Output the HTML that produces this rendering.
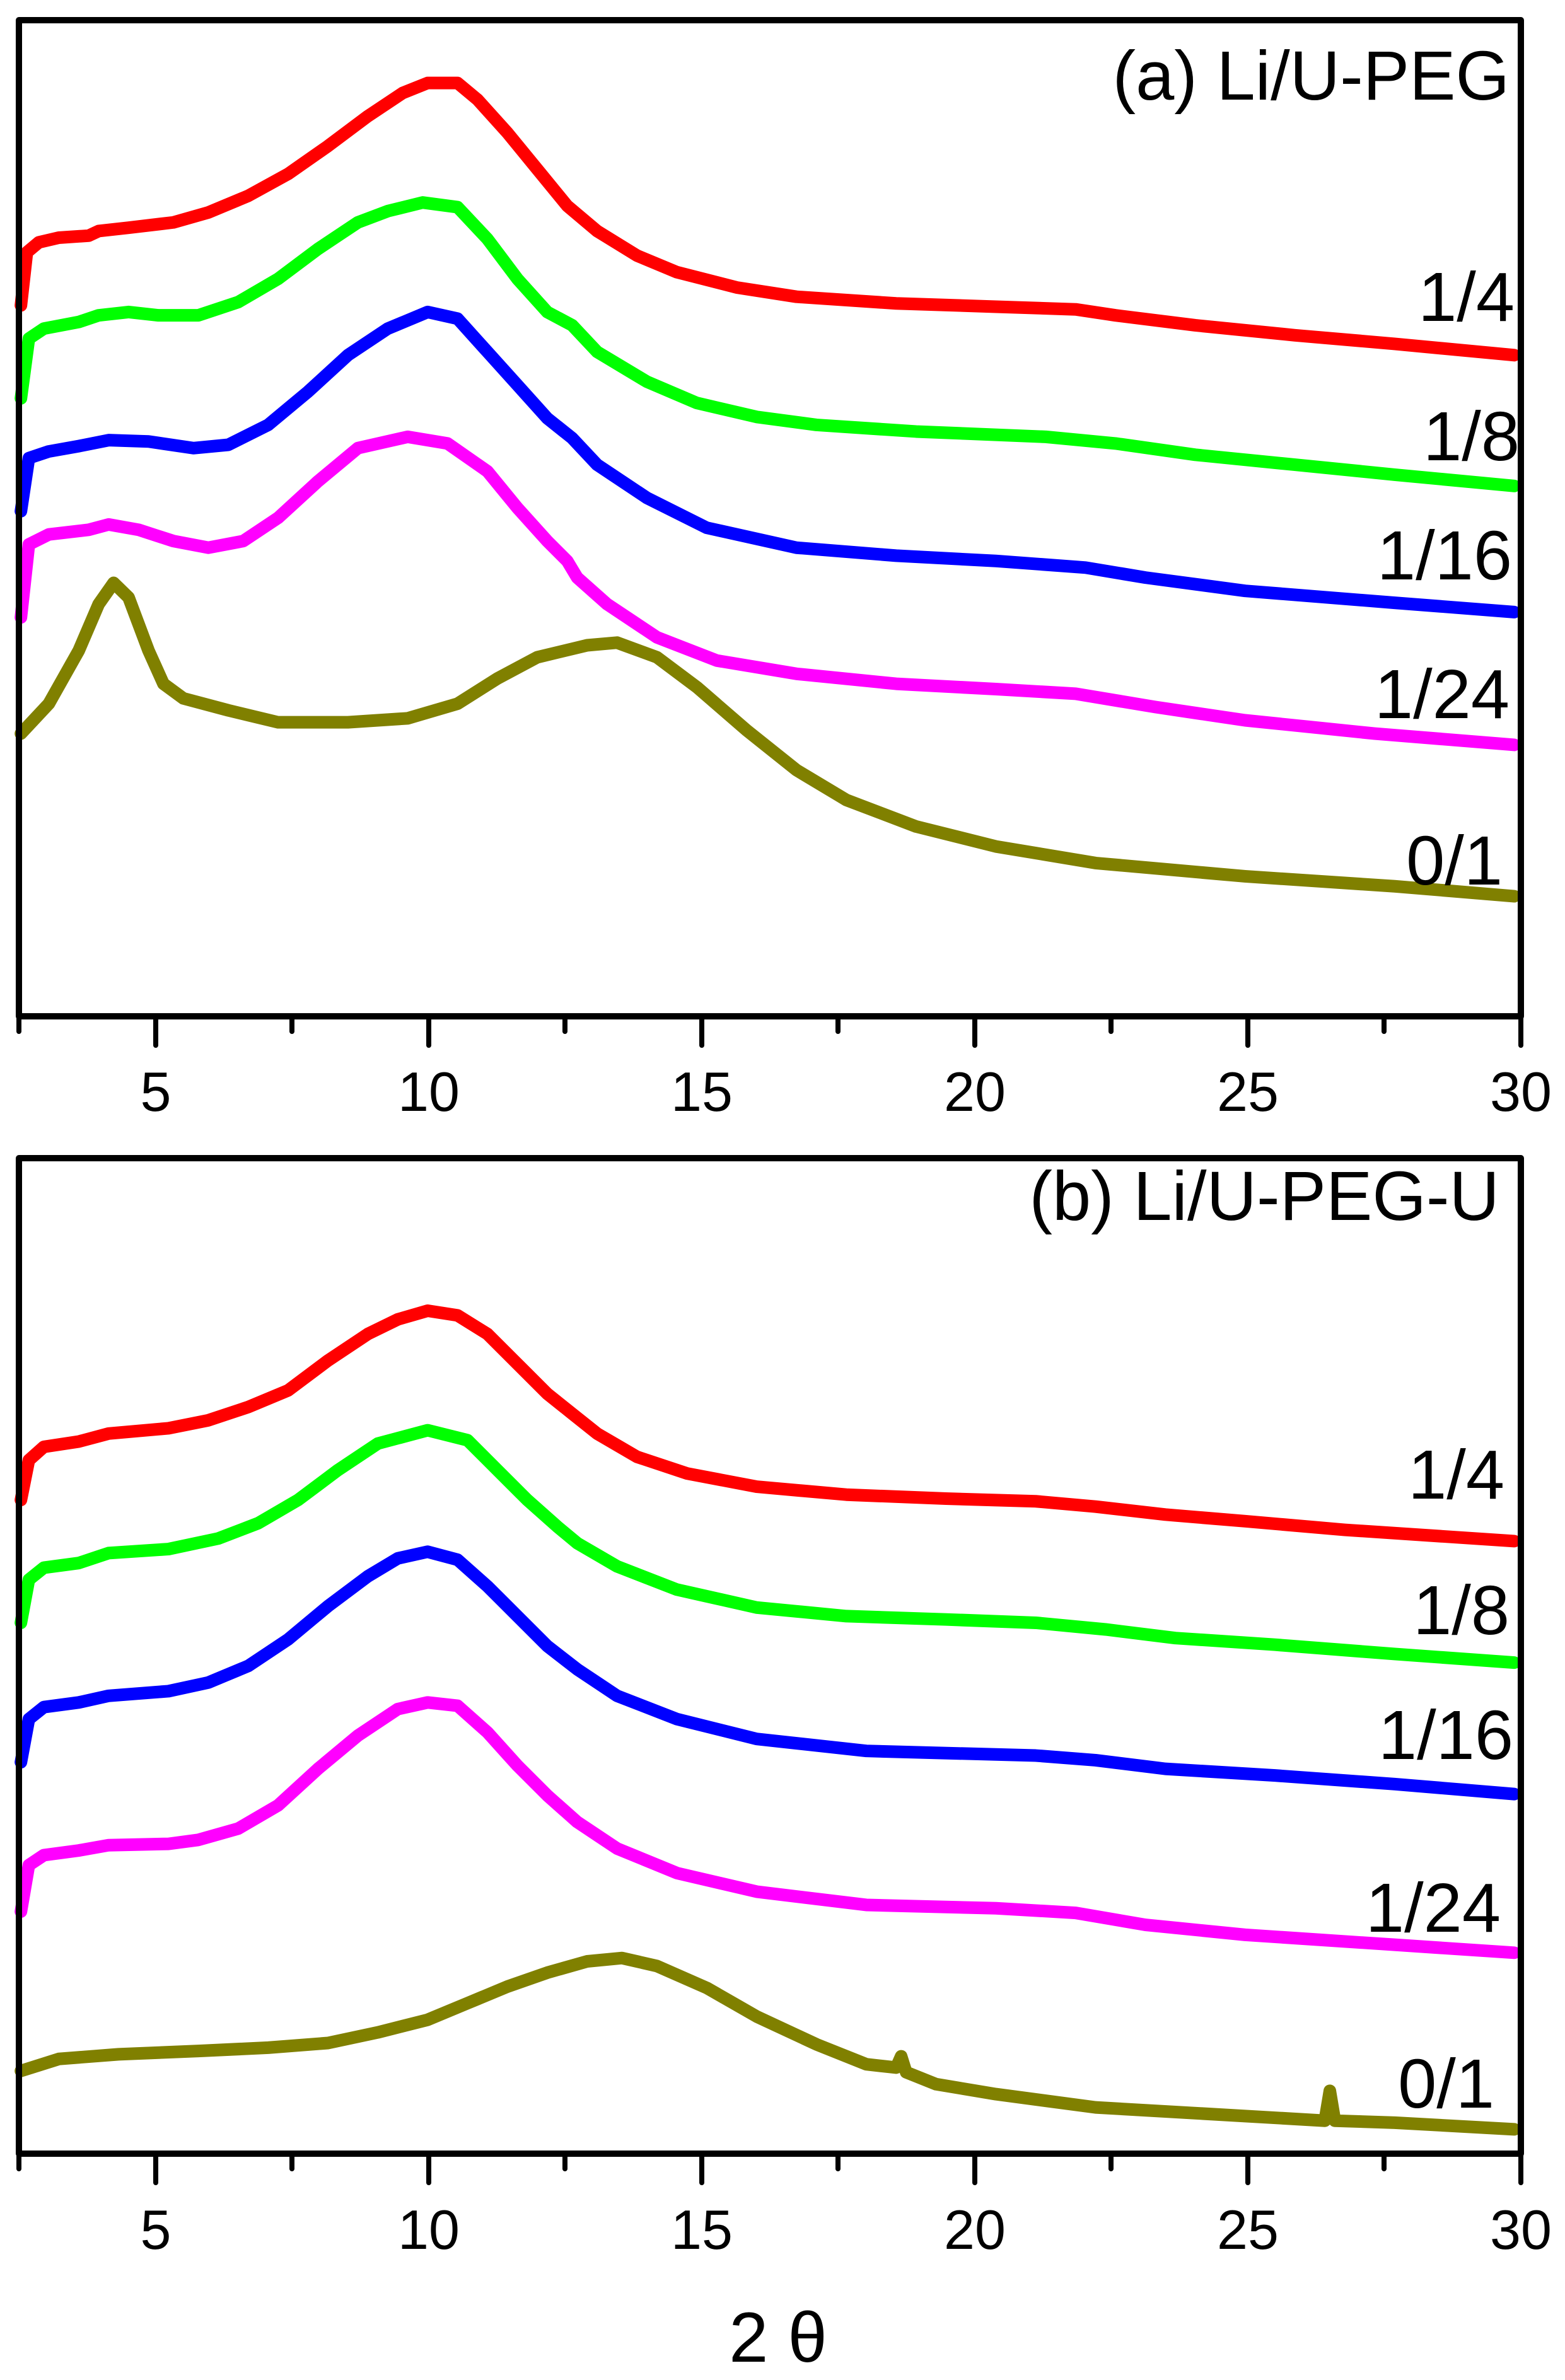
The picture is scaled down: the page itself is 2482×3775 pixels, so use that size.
<!DOCTYPE html>
<html><head><meta charset="utf-8"><style>html,body{margin:0;padding:0;background:#fff}svg{display:block}</style></head>
<body>
<svg width="2482" height="3775" viewBox="0 0 2482 3775" xmlns="http://www.w3.org/2000/svg" font-family="Liberation Sans, Arial, sans-serif">
<rect width="2482" height="3775" fill="#fff"/>
<g transform="translate(-1.6,0) scale(1.581,1.053)" fill="none" stroke-width="20" stroke-linejoin="round" stroke-linecap="round">
<polyline vector-effect="non-scaling-stroke" stroke="#ff0000" points="22,460 28,380 40,365 60,358 90,355 100,348 130,343 175,335 210,320 250,295 290,262 330,220 370,175 405,140 430,125 460,125 480,150 510,200 540,255 570,310 600,348 640,385 680,410 740,433 800,447 900,457 1000,462 1080,466 1120,475 1200,490 1300,505 1400,518 1520,535"/>
<polyline vector-effect="non-scaling-stroke" stroke="#00ff00" points="22,600 30,510 45,495 80,485 100,475 130,470 160,475 200,475 240,455 280,420 320,375 360,335 390,318 425,305 460,312 490,360 520,420 550,470 575,490 600,530 650,575 700,607 760,628 820,640 920,650 1050,658 1120,668 1200,685 1300,700 1400,715 1520,732"/>
<polyline vector-effect="non-scaling-stroke" stroke="#0000ff" points="22,770 30,690 50,680 80,672 110,663 150,665 195,675 230,670 270,640 310,590 350,535 390,495 430,470 460,480 490,530 520,580 550,630 575,660 600,700 650,750 710,795 800,825 900,837 1000,845 1090,855 1150,870 1250,890 1400,908 1520,922"/>
<polyline vector-effect="non-scaling-stroke" stroke="#ff00ff" points="22,930 30,820 50,805 90,798 110,790 140,798 175,815 210,825 245,815 280,780 320,725 360,675 410,658 450,668 490,710 520,765 550,815 570,845 580,870 610,910 660,960 720,995 800,1015 900,1030 1000,1038 1080,1045 1160,1065 1250,1085 1380,1105 1520,1122"/>
<polyline vector-effect="non-scaling-stroke" stroke="#808000" points="22,1105 50,1060 80,980 100,910 115,878 130,900 150,980 165,1030 185,1052 230,1070 280,1088 350,1088 410,1082 460,1060 500,1022 540,990 590,972 620,968 660,990 700,1035 750,1100 800,1160 850,1205 920,1245 1000,1275 1100,1300 1250,1320 1400,1335 1520,1350"/>
</g>
<g transform="translate(-1.6,1800) scale(1.581,1.053)" fill="none" stroke-width="20" stroke-linejoin="round" stroke-linecap="round">
<polyline vector-effect="non-scaling-stroke" stroke="#ff0000" points="22,550 30,490 45,470 80,462 110,450 170,442 210,430 250,410 290,385 330,340 370,300 400,278 430,265 460,272 490,300 520,345 550,390 575,420 600,450 640,485 690,510 760,530 850,542 950,548 1040,552 1100,560 1170,572 1250,582 1350,595 1450,605 1520,612"/>
<polyline vector-effect="non-scaling-stroke" stroke="#00ff00" points="22,735 30,670 45,652 80,645 110,630 170,624 220,608 260,585 300,550 340,505 380,465 430,445 470,460 500,505 530,550 560,590 580,615 620,650 680,685 760,712 850,725 950,730 1040,735 1110,745 1180,758 1280,768 1400,782 1520,795"/>
<polyline vector-effect="non-scaling-stroke" stroke="#0000ff" points="22,945 30,880 45,862 80,855 110,845 170,838 210,825 250,800 290,760 330,710 370,665 400,638 430,628 460,640 490,680 520,725 550,770 580,805 620,845 680,880 760,910 870,928 1040,935 1100,942 1170,955 1280,965 1400,978 1520,993"/>
<polyline vector-effect="non-scaling-stroke" stroke="#ff00ff" points="22,1170 30,1100 45,1085 80,1078 110,1070 170,1068 200,1062 240,1045 280,1010 320,955 360,905 400,865 430,855 460,860 490,900 520,950 550,995 580,1035 620,1075 680,1112 760,1140 870,1160 1000,1165 1080,1172 1150,1190 1250,1205 1400,1220 1520,1232"/>
<polyline vector-effect="non-scaling-stroke" stroke="#808000" points="22,1410 60,1392 120,1385 200,1380 270,1375 330,1368 380,1352 430,1333 470,1308 510,1283 550,1262 590,1245 625,1240 660,1252 710,1285 760,1328 820,1370 870,1400 900,1405 905,1388 910,1412 940,1430 1000,1445 1100,1465 1250,1478 1330,1485 1335,1440 1340,1485 1400,1488 1520,1498"/>
</g>
<g fill="none" stroke="#000" stroke-width="10" stroke-linejoin="round">
<rect x="30" y="32" width="2382" height="1580"/>
<rect x="30" y="1837" width="2382" height="1579"/>
</g>
<g stroke="#000" stroke-width="8" stroke-linecap="round">
<line x1="30" y1="1612" x2="30" y2="1636"/><line x1="463" y1="1612" x2="463" y2="1636"/><line x1="896" y1="1612" x2="896" y2="1636"/><line x1="1329" y1="1612" x2="1329" y2="1636"/><line x1="1762" y1="1612" x2="1762" y2="1636"/><line x1="2195" y1="1612" x2="2195" y2="1636"/>
<line x1="247" y1="1612" x2="247" y2="1658"/><line x1="680" y1="1612" x2="680" y2="1658"/><line x1="1113" y1="1612" x2="1113" y2="1658"/><line x1="1546" y1="1612" x2="1546" y2="1658"/><line x1="1979" y1="1612" x2="1979" y2="1658"/><line x1="2412" y1="1612" x2="2412" y2="1658"/>
<line x1="30" y1="3416" x2="30" y2="3440"/><line x1="463" y1="3416" x2="463" y2="3440"/><line x1="896" y1="3416" x2="896" y2="3440"/><line x1="1329" y1="3416" x2="1329" y2="3440"/><line x1="1762" y1="3416" x2="1762" y2="3440"/><line x1="2195" y1="3416" x2="2195" y2="3440"/>
<line x1="247" y1="3416" x2="247" y2="3462"/><line x1="680" y1="3416" x2="680" y2="3462"/><line x1="1113" y1="3416" x2="1113" y2="3462"/><line x1="1546" y1="3416" x2="1546" y2="3462"/><line x1="1979" y1="3416" x2="1979" y2="3462"/><line x1="2412" y1="3416" x2="2412" y2="3462"/>
</g>
<g font-size="88" text-anchor="middle" fill="#000">
<text x="247" y="1762">5</text><text x="680" y="1762">10</text><text x="1113" y="1762">15</text><text x="1546" y="1762">20</text><text x="1979" y="1762">25</text><text x="2412" y="1762">30</text>
<text x="247" y="3567">5</text><text x="680" y="3567">10</text><text x="1113" y="3567">15</text><text x="1546" y="3567">20</text><text x="1979" y="3567">25</text><text x="2412" y="3567">30</text>
</g>
<text x="1234" y="3746" font-size="112" text-anchor="middle">2 θ</text>
<g font-size="110" text-anchor="end" fill="#000">
<text x="2394" y="158">(a) Li/U-PEG</text>
<text x="2402" y="509">1/4</text>
<text x="2410" y="730">1/8</text>
<text x="2398" y="919">1/16</text>
<text x="2394" y="1139">1/24</text>
<text x="2383" y="1403">0/1</text>
<text x="2378" y="1935">(b) Li/U-PEG-U</text>
<text x="2386" y="2377">1/4</text>
<text x="2394" y="2592">1/8</text>
<text x="2400" y="2790">1/16</text>
<text x="2380" y="3064">1/24</text>
<text x="2370" y="3343">0/1</text>
</g>
</svg>
</body></html>
